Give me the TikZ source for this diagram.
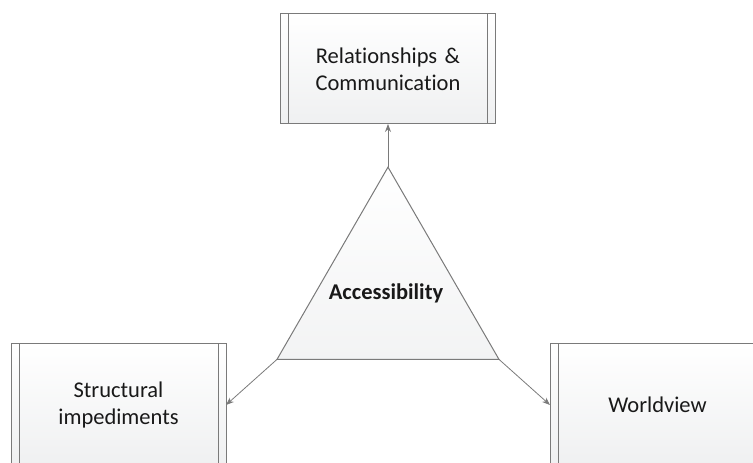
\documentclass[tikz,border=0pt]{standalone}
\usepackage{fontspec}
\setmainfont[Ligatures={NoCommon,NoContextual},RawFeature=-liga,RawFeature=-clig,RawFeature=-calt,RawFeature=-dlig]{Carlito}
\usepackage{tikz}
\usetikzlibrary{arrows.meta,shapes.geometric}

\definecolor{edgegray}{HTML}{7A7A7A}
\definecolor{boxbottom}{HTML}{EFF0F1}

\begin{document}
\begin{tikzpicture}[x=1pt,y=1pt,semithick]
        \tikzstyle{procnode}=[
            rectangle,
            draw=edgegray,
            line width=1pt,
            top color=white,
            bottom color=boxbottom,
            minimum width=215pt,
            text width=200pt,
            align=center,
            inner sep=0pt,
            outer sep=0pt,
            font=\fontsize{22.5}{27}\selectfont,
            text=black!90,
            path picture={
                \draw[edgegray, line width=1pt]
                    ([xshift=8pt]path picture bounding box.north west) -- ([xshift=8pt]path picture bounding box.south west)
                    ([xshift=-8pt]path picture bounding box.north east) -- ([xshift=-8pt]path picture bounding box.south east);
            }
        ]
        \tikzstyle{trinode}=[
            regular polygon,
            regular polygon sides=3,
            draw=edgegray,
            line width=1pt,
            top color=white,
            bottom color=boxbottom!80,
            minimum size=256.3pt,
            inner sep=0pt,
            outer sep=0pt
        ]
        \tikzstyle{link}=[
            -{Stealth[length=8pt,width=6pt]},
            edgegray,
            line width=0.8pt
        ]

        \useasboundingbox (0,0) rectangle (753,463);
        \clip (0,0) rectangle (753,463);

        \node[procnode, minimum height=110pt] (rel) at (388,394){Relationships \&\\Communication};
        \node[procnode, minimum height=122pt] (struct) at (118.5,58){Structural\\impediments};
        \node[procnode, minimum height=122pt] (world) at (657.5,58){Worldview};
        \node[trinode] (acc) at (388,167.7){};
        \node[font=\fontsize{22.5}{27}\selectfont\bfseries, text=black!90] (acclabel) at (386,170){Accessibility};

        \draw[link] (acc.corner 1) -- (rel);
        \draw[link] (acc.corner 2) -- (struct.east);
        \draw[link] (acc.corner 3) -- (world.west);

    \end{tikzpicture}
\end{document}
